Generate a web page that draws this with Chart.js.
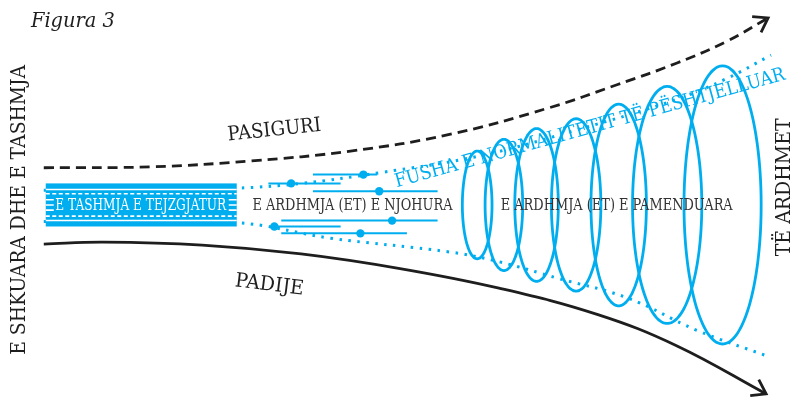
<!DOCTYPE html>
<html>
<head>
<meta charset="utf-8">
<script src="https://cdn.jsdelivr.net/npm/chart.js@4.4.0/dist/chart.umd.min.js"></script>
<style>
  html, body { margin: 0; padding: 0; background: #fff; }
  #wrap { width: 800px; height: 405px; }
</style>
</head>
<body>
<div id="wrap"><canvas id="fig"></canvas></div>
<script>
// curves (x, y in figure units, y grows downward)
const uncertaintyX = [40, 150, 250, 350, 450, 550, 620, 680, 730, 772]
const uncertaintyY = [167, 166, 160, 150, 133, 106, 82, 60, 38, 14]
const ignoranceX = [40, 100, 200, 300, 400, 500, 600, 680, 770]
const ignoranceY = [245, 243, 246, 255, 270, 290, 317, 349, 398]

const normalTopX = [40, 150, 233, 300, 380, 480, 580, 680, 730, 775]
const normalTopY = [190, 190, 188, 183, 172, 155, 128, 97, 76, 52]
const normalBottomX = [40, 233, 330, 450, 500, 560, 630, 700, 773]
const normalBottomY = [222, 223, 239, 253, 263, 280, 300, 333, 360]

// known futures: short ranges with a point estimate
const knownY = [174, 183, 191, 221, 227, 234]
const knownFrom = [312, 267, 312, 280, 270, 280]
const knownTo = [377, 340, 438, 438, 340, 407]
const knownDot = [363, 290, 379, 392, 273, 360]

// unimagined futures: growing ellipses
const ringX = [478, 505, 538, 578, 621, 670, 726]
const ringY = [205, 205, 205, 205, 205, 205, 205]
const ringRx = [15, 19, 22, 25, 28, 35, 39]
const ringRy = [55, 67, 78, 88, 103, 121, 142]

// the long present box
const boxX = [42, 235]
const boxY = [183, 227]

const BLUE = '#00aeef'
const INK = '#1e1e1e'

function pts(xs, ys) {
  return xs.map((x, i) => ({x: x, y: ys[i]}))
}

function ellipse(cx, cy, rx, ry) {
  let out = []
  for (let i = 0; i <= 96; i++) {
    let t = (i / 96) * Math.PI * 2
    out.push({x: cx + rx * Math.cos(t), y: cy + ry * Math.sin(t)})
  }
  return out
}

let datasets = []
datasets.push({
  data: pts(normalTopX, normalTopY), showLine: true, tension: 0.4,
  borderColor: BLUE, borderWidth: 3, borderDash: [2.5, 6.5], pointRadius: 0,
})
datasets.push({
  data: pts(normalBottomX, normalBottomY), showLine: true, tension: 0.4,
  borderColor: BLUE, borderWidth: 3, borderDash: [2.5, 6.5], pointRadius: 0,
})
datasets.push({
  data: pts(uncertaintyX, uncertaintyY), showLine: true, tension: 0.4, arrow: true,
  borderColor: INK, borderWidth: 2.8, borderDash: [10, 6], pointRadius: 0,
})
datasets.push({
  data: pts(ignoranceX, ignoranceY), showLine: true, tension: 0.4, arrow: true,
  borderColor: INK, borderWidth: 2.8, pointRadius: 0,
})
for (let i = 0; i < knownY.length; i++) {
  datasets.push({
    data: [{x: knownFrom[i], y: knownY[i]}, {x: knownTo[i], y: knownY[i]}],
    showLine: true, borderColor: BLUE, borderWidth: 2, pointRadius: 0,
  })
}
datasets.push({
  data: pts(knownDot, knownY), showLine: false,
  pointRadius: 4.2, pointBackgroundColor: BLUE, pointBorderWidth: 0,
})
for (let i = 0; i < ringX.length; i++) {
  // small tension keeps chart.js off its fast path, which breaks closed loops
  datasets.push({
    data: ellipse(ringX[i], ringY[i], ringRx[i], ringRy[i]),
    showLine: true, tension: 0.2, borderColor: BLUE, borderWidth: 2.8, pointRadius: 0,
  })
}
datasets.forEach((d) => { d.clip = false })

// text, placed in figure units
const notes = [
  {text: 'Figura 3', x: 27, y: 18, rot: 0, size: 21, width: 84, color: INK, italic: true, align: 'left'},
  {text: 'E SHKUARA DHE E TASHMJA', x: 16, y: 210, rot: -90, size: 20, width: 290, color: INK},
  {text: 'TË ARDHMET', x: 789, y: 187, rot: -90, size: 20, width: 138, color: INK},
  {text: 'PASIGURI', x: 273, y: 129, rot: -6, size: 20, width: 94, color: INK},
  {text: 'PADIJE', x: 268, y: 287, rot: 7, size: 20, width: 69, color: INK},
  {text: 'FUSHA E NORMALITETIT TË PËSHTJELLUAR', x: 592, y: 127, rot: -15.5, size: 19, width: 404, color: BLUE},
  {text: 'E ARDHMJA (ET) E NJOHURA', x: 352, y: 206, rot: 0, size: 16, width: 200, color: '#333'},
  {text: 'E ARDHMJA (ET) E PAMENDUARA', x: 619, y: 206, rot: 0, size: 16, width: 232, color: '#333'},
  {text: 'E TASHMJA E TEJZGJATUR', x: 138, y: 206, rot: 0, size: 16, width: 171, color: '#fff'},
]

const arrowHeads = {
  id: 'arrowHeads',
  afterDatasetsDraw(chart) {
    let ctx = chart.ctx
    chart.data.datasets.forEach((ds, i) => {
      if (!ds.arrow) return
      let els = chart.getDatasetMeta(i).data
      let tip = els[els.length - 1]
      let prev = els[els.length - 2]
      let bx = tip.cp1x !== undefined ? tip.cp1x : prev.x
      let by = tip.cp1y !== undefined ? tip.cp1y : prev.y
      let ang = Math.atan2(tip.y - by, tip.x - bx)
      ctx.save()
      ctx.strokeStyle = INK
      ctx.lineWidth = 2.8
      ctx.lineCap = 'butt'
      ctx.lineJoin = 'miter'
      ctx.beginPath()
      ctx.moveTo(tip.x - 16 * Math.cos(ang - 0.6), tip.y - 16 * Math.sin(ang - 0.6))
      ctx.lineTo(tip.x, tip.y)
      ctx.lineTo(tip.x - 16 * Math.cos(ang + 0.6), tip.y - 16 * Math.sin(ang + 0.6))
      ctx.stroke()
      ctx.restore()
    })
  },
}

const presentBox = {
  id: 'presentBox',
  afterDatasetsDraw(chart) {
    let ctx = chart.ctx
    let xs = chart.scales.x
    let ys = chart.scales.y
    let l = xs.getPixelForValue(boxX[0])
    let r = xs.getPixelForValue(boxX[1])
    let t = ys.getPixelForValue(boxY[0])
    let b = ys.getPixelForValue(boxY[1])
    ctx.save()
    ctx.fillStyle = BLUE
    ctx.fillRect(l, t, r - l, b - t)
    ctx.strokeStyle = '#fff'
    ctx.lineWidth = 1.6
    let h = b - t
    // solid stripes
    for (let f of [0.14, 0.86]) {
      ctx.beginPath()
      ctx.moveTo(l, t + h * f)
      ctx.lineTo(r, t + h * f)
      ctx.stroke()
    }
    // dashed stripes
    ctx.setLineDash([4, 2.5])
    for (let f of [0.24, 0.76]) {
      ctx.beginPath()
      ctx.moveTo(l, t + h * f)
      ctx.lineTo(r, t + h * f)
      ctx.stroke()
    }
    ctx.setLineDash([])
    for (let f of [0.38, 0.5, 0.62]) {
      ctx.beginPath()
      ctx.moveTo(l, t + h * f)
      ctx.lineTo(r, t + h * f)
      ctx.stroke()
    }
    ctx.fillStyle = BLUE
    ctx.fillRect(l + 8, t + h * 0.3, r - l - 16, h * 0.4)
    ctx.restore()
  },
}

const labelText = {
  id: 'labelText',
  afterDraw(chart) {
    let ctx = chart.ctx
    let xs = chart.scales.x
    let ys = chart.scales.y
    for (let n of notes) {
      ctx.save()
      ctx.translate(xs.getPixelForValue(n.x), ys.getPixelForValue(n.y))
      ctx.rotate(n.rot * Math.PI / 180)
      ctx.font = (n.italic ? 'italic ' : '') + n.size + 'px "DejaVu Serif", "Liberation Serif", serif'
      ctx.fillStyle = n.color
      ctx.textAlign = n.align || 'center'
      ctx.textBaseline = 'middle'
      ctx.fillText(n.text, 0, 0, n.width)
      ctx.restore()
    }
  },
}

new Chart(document.getElementById('fig'), {
  type: 'scatter',
  data: {datasets: datasets},
  options: {
    responsive: true,
    maintainAspectRatio: false,
    animation: false,
    layout: {padding: 0},
    scales: {
      x: {type: 'linear', min: 0, max: 800, display: false},
      y: {type: 'linear', min: 0, max: 405, reverse: true, display: false},
    },
    plugins: {
      legend: {display: false},
      tooltip: {enabled: false},
    },
  },
  plugins: [arrowHeads, presentBox, labelText],
})
</script>
</body>
</html>
